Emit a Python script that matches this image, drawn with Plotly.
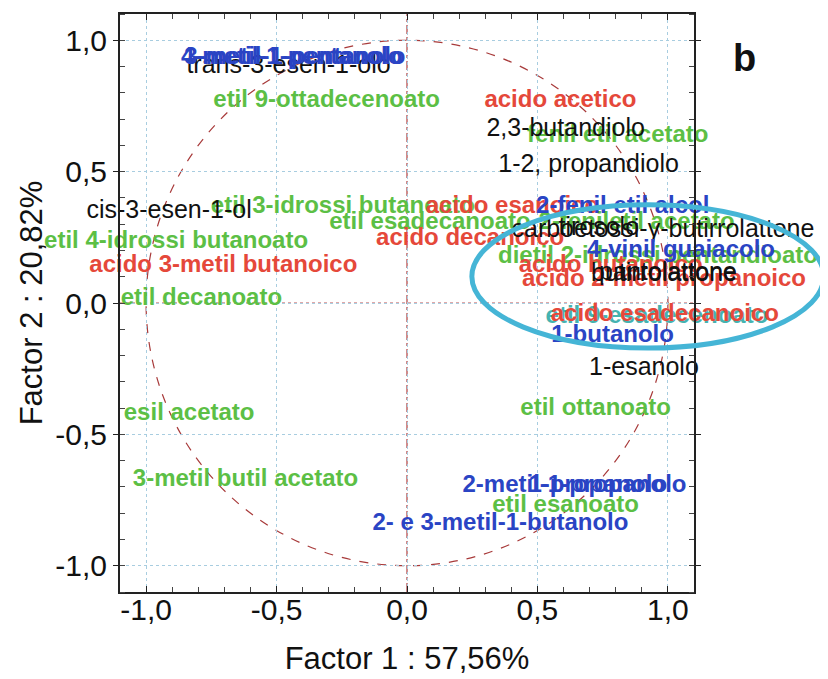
import plotly.graph_objects as go

# Loadings (Factor 1, Factor 2)
acids = ["acido acetico", "acido esanoico", "acido decanoico", "acido 3-metil butanoico",
         "acido butanoico", "acido 2-metil propanoico", "acido esadecanoico"]
acids_f1 = [0.588, 0.404, 0.242, -0.704, 0.781, 0.985, 0.988]
acids_f2 = [0.767, 0.366, 0.244, 0.141, 0.141, 0.088, -0.046]

esters = ["etil 9-ottadecenoato", "fenil etil acetato", "etil 3-idrossi butanoato", "etil esadecanoato",
          "2-feniletil acetato", "dietil 2-idrossi pentandioato", "etil ottanoato", "etil esanoato",
          "esil acetato", "3-metil butil acetato", "etil decanoato", "etil 4-idrossi butanoato"]
esters_f1 = [-0.308, 0.808, -0.246, 0.088, 0.880, 0.962, 0.723, 0.608, -0.835, -0.619, -0.788, -0.885]
esters_f2 = [0.767, 0.634, 0.366, 0.305, 0.305, 0.176, -0.405, -0.771, -0.424, -0.672, 0.015, 0.233]

alcohols = ["4-metil-1-pentanolo", "3-metil-1-pentanolo", "2-fenil etil alcol", "4-vinil guaiacolo",
            "1-butanolo", "2-metil-1-propanolo", "1-propanolo", "2- e 3-metil-1-butanolo"]
alcohols_f1 = [-0.442, -0.430, 0.827, 1.050, 0.788, 0.642, 0.731, 0.358]
alcohols_f2 = [0.931, 0.931, 0.366, 0.198, -0.126, -0.695, -0.695, -0.840]

others = ["trans-3-esen-1-olo", "2,3-butandiolo", "1-2, propandiolo", "cis-3-esen-1-ol",
          "carboetossi-γ-butirrolattone", "tirosolo", "butirrolattone", "pantolattone", "1-esanolo"]
others_f1 = [-0.454, 0.608, 0.696, -0.912, 0.981, 0.735, 0.985, 1.000, 0.908]
others_f2 = [0.900, 0.660, 0.523, 0.347, 0.275, 0.282, 0.107, 0.111, -0.252]

teal = ["etil 9-esadecenoato"]
teal_f1 = [0.958]
teal_f2 = [-0.053]

tick_vals = [-1.0, -0.5, 0.0, 0.5, 1.0]
tick_text = ["-1,0", "-0,5", "0,0", "0,5", "1,0"]

FONT = "Liberation Sans, Arial, sans-serif"

fig = go.Figure()

def add_group(names, xs, ys, color, bold, size):
    fig.add_trace(go.Scatter(
        x=xs, y=ys, text=names, mode="text", textposition="middle center",
        textfont=dict(family=FONT, size=size, color=color, weight="bold" if bold else "normal"),
        cliponaxis=False, showlegend=False, hoverinfo="text"))

add_group(teal, teal_f1, teal_f2, "#45b3b0", True, 24)
add_group(esters, esters_f1, esters_f2, "#5cbf45", True, 24)
add_group(acids, acids_f1, acids_f2, "#e5483a", True, 24)
add_group(others, others_f1, others_f2, "#111111", False, 25)
add_group(alcohols, alcohols_f1, alcohols_f2, "#2a44c4", True, 24)

# unit circle and cross lines
fig.add_shape(type="circle", xref="x", yref="y", x0=-1, y0=-1, x1=1, y1=1,
              line=dict(color="#a83a3a", width=1.2, dash="dash"), layer="below")
fig.add_shape(type="line", xref="x", yref="y", x0=0, x1=0, y0=-1.1, y1=1.1,
              line=dict(color="#b04040", width=1.2, dash="dashdot"), layer="below")
fig.add_shape(type="line", xref="x", yref="y", x0=-1.1, x1=1.1, y0=0, y1=0,
              line=dict(color="#c05050", width=1, dash="dot"), layer="below")

# highlight ellipse (extends beyond plot area)
fig.add_shape(type="circle", xref="paper", yref="paper", x0=0.613, x1=1.226, y0=0.422, y1=0.670,
              line=dict(color="#45b5d6", width=5))

fig.add_annotation(text="<b>b</b>", xref="paper", yref="paper", x=1.112, y=0.963,
                   showarrow=False, font=dict(family=FONT, size=38, color="#111111"))

axis_common = dict(
    range=[-1.1, 1.1], tickvals=tick_vals, ticktext=tick_text, automargin=False,
    showline=True, linecolor="#222222", linewidth=2, mirror="ticks",
    tickcolor="#222222",
    showgrid=True, gridcolor="#a8cde0", griddash="dot", gridwidth=1,
    zeroline=False, tickfont=dict(family=FONT, size=30, color="#111111"),
    minor=dict(dtick=0.1, ticks="inside", ticklen=5, tickcolor="#444444", showgrid=False),
)

fig.update_xaxes(**axis_common, ticks="inside", ticklen=6, ticklabelstandoff=-10,
                 title=dict(text="Factor 1 : 57,56%",
                            font=dict(family=FONT, size=31, color="#111111"), standoff=22))
fig.update_yaxes(**axis_common, ticks="outside", ticklen=5,
                 title=dict(text="Factor 2 : 20,82%",
                            font=dict(family=FONT, size=31, color="#111111"), standoff=3))

# the page body adds an 8px offset, so margins are compensated
fig.update_layout(
    width=828, height=679,
    margin=dict(l=112, r=142, t=6, b=95),
    paper_bgcolor="white", plot_bgcolor="white",
)

fig.write_html("out.html")
